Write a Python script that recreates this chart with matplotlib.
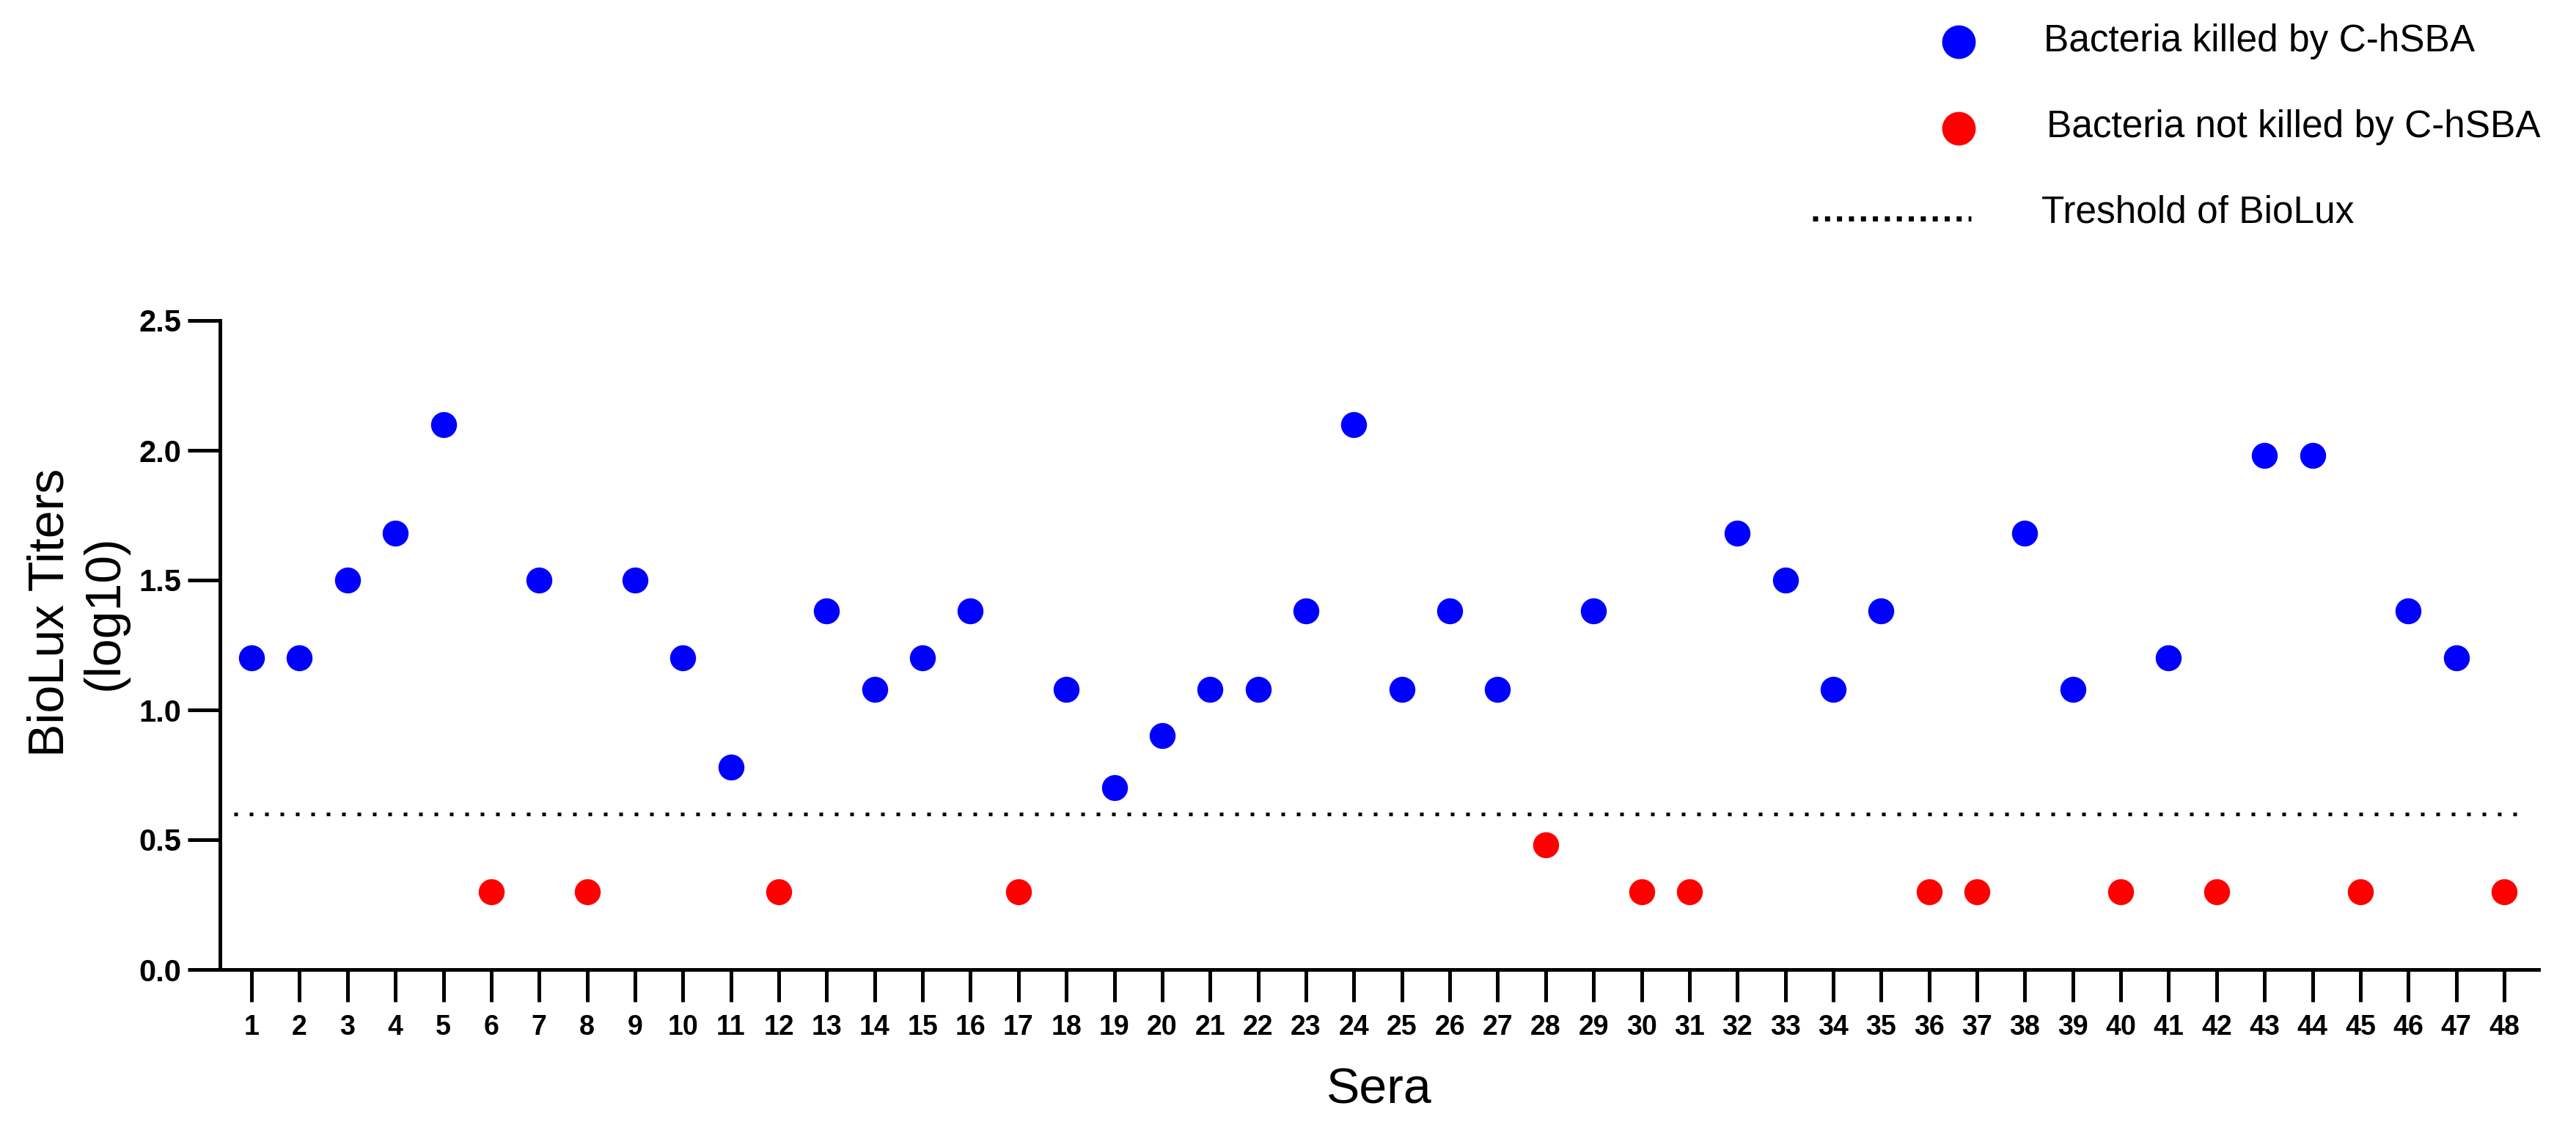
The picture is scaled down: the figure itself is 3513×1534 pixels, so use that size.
import matplotlib
matplotlib.use("Agg")
import matplotlib.pyplot as plt
from matplotlib.lines import Line2D
import numpy as np

# ---- data ----
sera = list(range(1, 49))
titers = [1.20, 1.20, 1.50, 1.68, 2.10, 0.30, 1.50, 0.30, 1.50, 1.20,
          0.78, 0.30, 1.38, 1.08, 1.20, 1.38, 0.30, 1.08, 0.70, 0.90,
          1.08, 1.08, 1.38, 2.10, 1.08, 1.38, 1.08, 0.48, 1.38, 0.30,
          0.30, 1.68, 1.50, 1.08, 1.38, 0.30, 0.30, 1.68, 1.08, 0.30,
          1.20, 0.30, 1.98, 1.98, 0.30, 1.38, 1.20, 0.30]
killed = [1, 1, 1, 1, 1, 0, 1, 0, 1, 1,
          1, 0, 1, 1, 1, 1, 0, 1, 1, 1,
          1, 1, 1, 1, 1, 1, 1, 0, 1, 0,
          0, 1, 1, 1, 1, 0, 0, 1, 1, 0,
          1, 0, 1, 1, 0, 1, 1, 0]
threshold = 0.6
yticks = [0.0, 0.5, 1.0, 1.5, 2.0, 2.5]
legend_labels = ["Bacteria killed by C-hSBA", "Bacteria not killed by C-hSBA", "Treshold of BioLux"]
blue = "#0000FF"
red = "#FF0000"

plt.rcParams['font.family'] = ['Liberation Sans', 'DejaVu Sans']

W, H, DPI = 3513, 1534, 100
fig = plt.figure(figsize=(W / DPI, H / DPI), dpi=DPI)
ax = fig.add_axes([300 / W, 1 - 1322 / H, (3462 - 300) / W, (1322 - 437) / H])

sera_a = np.array(sera)
tit_a = np.array(titers)
k_a = np.array(killed).astype(bool)

ax.plot(sera_a[k_a], tit_a[k_a], 'o', color=blue, ms=25.5, mew=0, ls='none', zorder=3)
ax.plot(sera_a[~k_a], tit_a[~k_a], 'o', color=red, ms=25.5, mew=0, ls='none', zorder=3)
ax.axhline(threshold, xmin=0.006, xmax=0.993, color='black', lw=3.6,
           ls=(0, (1, 3.2)), dash_capstyle='butt', zorder=2)

ax.set_xlim(0.34, 48.72)
ax.set_ylim(0, 2.5)
ax.set_xticks(sera)
ax.set_xticklabels([str(s) for s in sera], fontsize=27, fontweight='bold')
ax.set_yticks(yticks)
ax.set_yticklabels([f"{v:.1f}" for v in yticks], fontsize=30, fontweight='bold')

for s in ['top', 'right']:
    ax.spines[s].set_visible(False)
for s in ['left', 'bottom']:
    ax.spines[s].set_linewidth(3.6)
    ax.spines[s].set_color('black')
ax.tick_params(axis='x', length=32, width=3.6, pad=12, colors='black')
ax.tick_params(axis='y', length=32, width=3.6, pad=6, colors='black')

ax.set_ylabel("BioLux Titers\n(log10)", fontsize=49, linespacing=1.2)
ax.yaxis.label.set_va('center')
ax.yaxis.set_label_coords(-0.0614, 0.5503)
ax.set_xlabel("Sera", fontsize=49)
ax.xaxis.set_label_coords(0.5, -0.150)

# ---- legend (drawn manually at figure level) ----
fig.add_artist(Line2D([2671 / W], [1 - 57 / H], marker='o', ms=33, mew=0,
                      color=blue, ls='none', transform=fig.transFigure))
fig.add_artist(Line2D([2671 / W], [1 - 175 / H], marker='o', ms=33, mew=0,
                      color=red, ls='none', transform=fig.transFigure))
fig.add_artist(Line2D([2472 / W, 2688 / W], [1 - 298 / H, 1 - 298 / H], color='black',
                      lw=5, ls=(0, (1, 1.35)), dash_capstyle='butt',
                      transform=fig.transFigure))
fig.text(2787 / W, 1 - 70 / H, legend_labels[0], fontsize=37, va='baseline', ha='left')
fig.text(2791 / W, 1 - 187 / H, legend_labels[1], fontsize=37, va='baseline', ha='left')
fig.text(2784 / W, 1 - 303 / H, legend_labels[2], fontsize=37, va='baseline', ha='left')

fig.savefig("out.png", dpi=DPI, facecolor='white')
